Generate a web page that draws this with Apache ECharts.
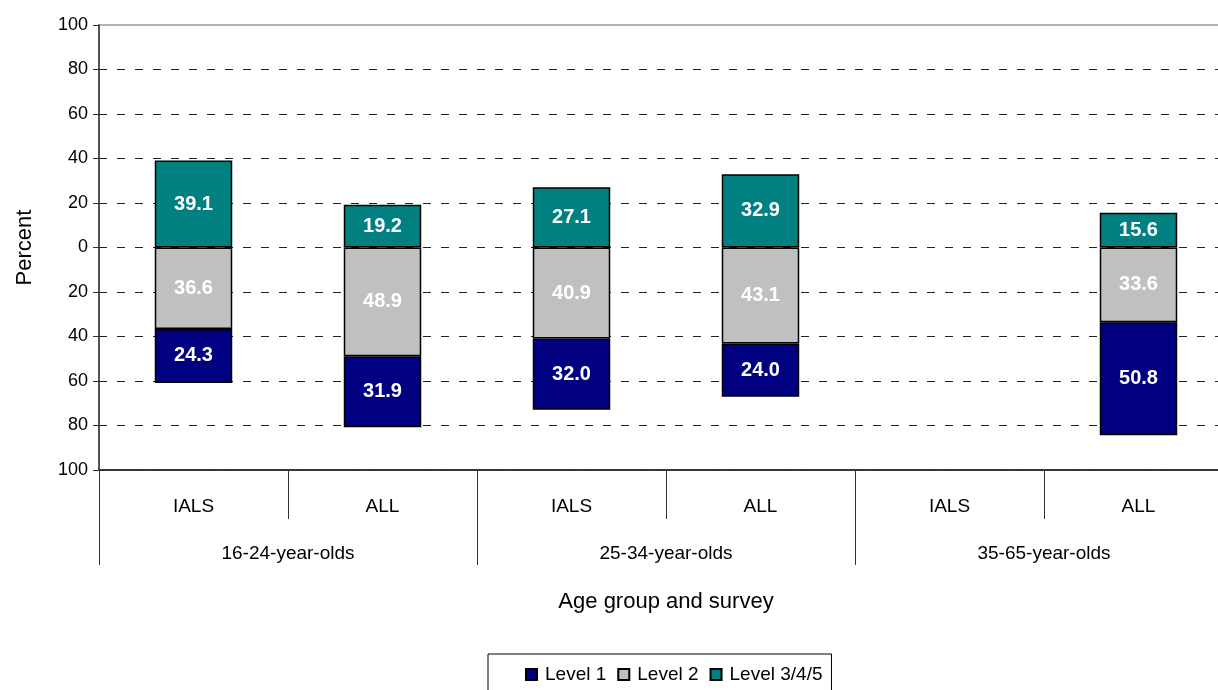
<!DOCTYPE html>
<html>
<head>
<meta charset="utf-8">
<script src="https://cdn.jsdelivr.net/npm/echarts@6/dist/echarts.min.js"></script>
<style>
  html, body { margin: 0; padding: 0; background: #fff; overflow: hidden; }
  /* 画布比窗口宽一点，绘图区右边缘落在窗口外 */
  #chart { width: 1240px; height: 690px; }
</style>
</head>
<body>
<div id="chart"></div>
<script>
// 数据
var surveys = ['IALS', 'ALL', 'IALS', 'ALL', 'IALS', 'ALL'];
var ageGroups = ['16-24-year-olds', '25-34-year-olds', '35-65-year-olds'];
var level1 = [24.3, 31.9, 32.0, 24.0, '-', 50.8];
var level2 = [36.6, 48.9, 40.9, 43.1, '-', 33.6];
var level345 = [39.1, 19.2, 27.1, 32.9, '-', 15.6];

var font = "'Liberation Sans', Arial, sans-serif";

function neg(arr) {
  return arr.map(function (v) { return v === '-' ? '-' : -v; });
}

// 网格线颜色：最上面一条留给灰色边框
var gridColors = [];
for (var i = 0; i < 10; i++) gridColors.push('#222');
gridColors.push('rgba(0,0,0,0)');

var labelOpt = {
  show: true,
  position: 'inside',
  color: '#fff',
  fontWeight: 'bold',
  fontSize: 20,
  fontFamily: font,
  formatter: function (p) { return Math.abs(p.value).toFixed(1); }
};

var myChart = echarts.init(document.getElementById('chart'));
var option = {
  animation: false,
  textStyle: { fontFamily: font },
  grid: {
    left: 99, top: 25, right: 7, bottom: 220,
    show: true, borderColor: '#999', borderWidth: 1.5, backgroundColor: 'transparent'
  },
  legend: {
    data: ['Level 1', 'Level 2', 'Level 3/4/5'],
    left: 488, top: 654,
    padding: [11, 9, 10, 37],
    itemGap: 11,
    itemWidth: 11, itemHeight: 11,
    icon: 'rect',
    borderColor: '#000', borderWidth: 1,
    textStyle: { fontSize: 19, color: '#000', fontFamily: font, padding: [0, 0, 0, 3] }
  },
  xAxis: [
    {
      type: 'category',
      data: surveys,
      position: 'bottom',
      axisLine: { show: true, onZero: false, lineStyle: { color: '#333', width: 1.5 } },
      axisTick: { show: true, length: 49, lineStyle: { color: '#333' } },
      axisLabel: { margin: 27, fontSize: 19, color: '#000', fontFamily: font },
      splitLine: { show: false }
    },
    {
      type: 'category',
      data: ageGroups,
      position: 'bottom',
      axisLine: { show: true, onZero: false, lineStyle: { color: '#333', width: 1.5 } },
      axisTick: { show: true, length: 95, lineStyle: { color: '#333' } },
      axisLabel: { margin: 74, fontSize: 19, color: '#000', fontFamily: font },
      splitLine: { show: false },
      name: 'Age group and survey',
      nameLocation: 'middle',
      nameGap: 121,
      nameTextStyle: { fontSize: 22, color: '#000', fontFamily: font }
    }
  ],
  yAxis: {
    type: 'value',
    min: -100, max: 100, interval: 20,
    name: 'Percent',
    nameLocation: 'middle',
    nameGap: 63,
    nameTextStyle: { fontSize: 22, color: '#000', fontFamily: font },
    axisLine: { show: true, lineStyle: { color: '#333', width: 1.5 } },
    axisTick: { show: true, length: 6, lineStyle: { color: '#333' } },
    axisLabel: {
      margin: 11, fontSize: 18, color: '#000', fontFamily: font,
      formatter: function (v) { return Math.abs(v); }
    },
    splitLine: { show: true, lineStyle: { color: gridColors, type: [8, 10], width: 1 } }
  },
  series: [
    {
      name: 'Level 3/4/5', type: 'bar', stack: 'total', barWidth: '41%',
      data: level345,
      itemStyle: { color: '#008080', borderColor: '#000', borderWidth: 1.5 },
      label: labelOpt
    },
    {
      name: 'Level 2', type: 'bar', stack: 'total', barWidth: '41%',
      data: neg(level2),
      itemStyle: { color: '#C0C0C0', borderColor: '#000', borderWidth: 1.5 },
      label: labelOpt
    },
    {
      name: 'Level 1', type: 'bar', stack: 'total', barWidth: '41%',
      data: neg(level1),
      itemStyle: { color: '#000080', borderColor: '#000', borderWidth: 1.5 },
      label: labelOpt
    }
  ]
};
myChart.setOption(option);
</script>
</body>
</html>
